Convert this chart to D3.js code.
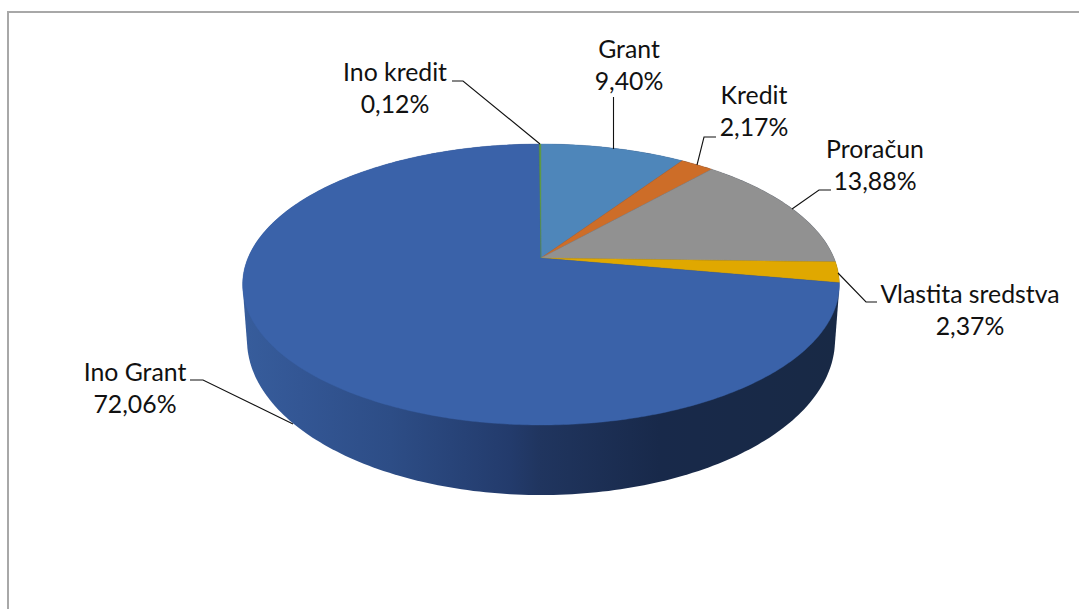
<!DOCTYPE html>
<html><head><meta charset="utf-8">
<script src="https://cdn.jsdelivr.net/npm/d3@7"></script>
<style>html,body{margin:0;padding:0;background:#fff;overflow:hidden}svg{display:block}text{font-family:Lato,"Open Sans",sans-serif;font-size:24.8px;fill:#111}</style>
</head><body><svg id="c" width="1079" height="609"></svg>
<script>
const categories=["Grant","Kredit","Proračun","Vlastita sredstva","Ino Grant","Ino kredit"];
const values=[9.40,2.17,13.88,2.37,72.06,0.12];
const labels=["9,40%","2,17%","13,88%","2,37%","72,06%","0,12%"];
const colors=["#4e86ba","#cd6d28","#919191","#e0a800","#3a62a9","#5f9a46"];
const labelX=[629,754,875,970,135,395];
const labelY=[58,104,158,303,381,81];
const leaders=[[[613.5,149],[613.5,97]],[[697,165],[704,137],[716,137]],[[792,209],[819,190],[831,190]],[[838,273],[866,302],[877,302]],[[293,424],[203,380],[190,380]],[[540,144],[463,81],[452,81]]];

const W=1079,H=609,svg=d3.select("#c");
const k=0.1886;
function proj(cx,cy,a,b){return t=>{const u=Math.sin(t),v=-Math.cos(t),d=1-k*v;return [cx+a*u/d,cy+b*v/d];};}
const top_=proj(541,258,293,135.5);
const bot=proj(541,310.8,288.7,149.5);

svg.append("path").attr("d","M8,609V12H1079").attr("fill","none").attr("stroke","#a8a8a8").attr("stroke-width",2);

const defs=svg.append("defs");
const g=defs.append("linearGradient").attr("id","wall").attr("gradientUnits","userSpaceOnUse").attr("x1",241).attr("x2",839).attr("y1",0).attr("y2",0);
[[0,"#375d9c"],[0.1,"#335694"],[0.25,"#2d4d86"],[0.45,"#233b6c"],[0.5,"#20355f"],[0.7,"#18294a"],[1,"#182945"]].forEach(d=>g.append("stop").attr("offset",d[0]).attr("stop-color",d[1]));

const line=d3.line();
const tL=d3.range(-Math.PI,Math.PI+1e-6,Math.PI/180);
// side wall: hull of the rear and front rims
const hull=d3.polygonHull(tL.map(top_).concat(tL.map(bot)));
svg.append("path").attr("d",line(hull)+"Z").attr("fill","url(#wall)");

const pie=d3.pie().sort(null).value(d=>d)(values);
svg.append("g").selectAll("path").data(pie).join("path")
 .attr("d",d=>{const n=Math.max(2,Math.ceil((d.endAngle-d.startAngle)*90));
   const pts=d3.range(n+1).map(i=>top_(d.startAngle+(d.endAngle-d.startAngle)*i/n));
   return line([[541,258],...pts])+"Z";})
 .attr("fill",(d,i)=>colors[i]).attr("stroke",(d,i)=>colors[i]).attr("stroke-width",0.4);

svg.append("g").selectAll("path").data(leaders).join("path").attr("d",d=>line(d)).attr("fill","none").attr("stroke","#111").attr("stroke-width",1.1);

const t=svg.append("g").selectAll("text").data(categories).join("text").attr("text-anchor","middle");
t.append("tspan").attr("x",(d,i)=>labelX[i]).attr("y",(d,i)=>labelY[i]).text(d=>d);
t.append("tspan").attr("x",(d,i)=>labelX[i]).attr("y",(d,i)=>labelY[i]+32).text((d,i)=>labels[i]);
</script></body></html>
